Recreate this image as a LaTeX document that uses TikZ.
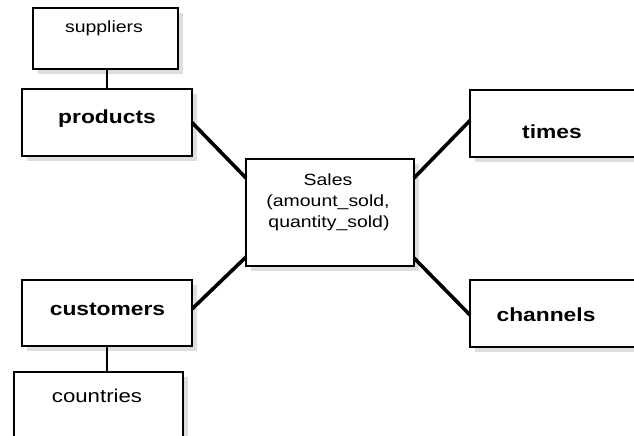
\documentclass[tikz,border=0pt]{standalone}
\usepackage{fontspec}
\setmainfont{Liberation Sans}[FakeStretch=1.2]
\usetikzlibrary{shadows}
\begin{document}
\begin{tikzpicture}[x=1pt,y=-1pt,
  box/.style={draw=black, fill=white, inner sep=0pt, outer sep=0pt,
    drop shadow={shadow xshift=5pt, shadow yshift=-5pt, fill=black!13, opacity=1}},
  lbl/.style={anchor=base, inner sep=0pt, font=\fontsize{16.2}{19}\selectfont},
  blbl/.style={anchor=base, inner sep=0pt, font=\fontsize{19}{22}\selectfont\bfseries},
  link/.style={line width=3.6pt, line cap=butt},
  tie/.style={line width=2.6pt}]
\useasboundingbox (0,0) rectangle (634,436);
\clip (0,0) rectangle (634,436);
\fill[white] (0,0) rectangle (634,436);

% boxes
\node[box, line width=1.2pt, minimum width=145pt, minimum height=61pt] (sup) at (105.5,38.5) {};
\node[box, line width=2.5pt, minimum width=170pt, minimum height=67pt] (prod) at (107,122.5) {};
\node[box, line width=1.3pt, minimum width=168pt, minimum height=107pt] (sales) at (330,212.5) {};
\node[box, line width=2.5pt, minimum width=230pt, minimum height=67pt] (times) at (585,123.5) {};
\node[box, line width=1.8pt, minimum width=230pt, minimum height=67pt] (chan) at (585,313.5) {};
\node[box, line width=1.8pt, minimum width=170pt, minimum height=66pt] (cust) at (107,313) {};
\node[box, line width=1.5pt, minimum width=169pt, minimum height=88pt] (ctry) at (98.5,416) {};

% texts
\node[lbl] (tsup) at (104,33) {suppliers};
\node[blbl] (tprod) at (107,123) {products};
\node[blbl] (tcust) at (107.5,315) {customers};
\node[lbl, font=\fontsize{18.5}{22}\selectfont] (tctry) at (97,402) {countries};
\node[blbl] (ttimes) at (552,138) {times};
\node[blbl] (tchan) at (546,321) {channels};
\node[lbl] (ts1) at (328,185) {Sales};
\node[lbl] (ts2) at (328,206) {(amount\_sold,};
\node[lbl] (ts3) at (329,227) {quantity\_sold)};

% connectors
\draw[tie] (prod.north |- sup.south) -- (prod.north);
\draw[tie] (cust.south) -- (cust.south |- ctry.north);
\draw[link] (prod.east) -- ([yshift=-19pt]sales.north west);
\draw[link] ([yshift=4pt]cust.east) -- ([yshift=9pt]sales.south west);
\draw[link] ([yshift=-19pt]sales.north east) -- ([yshift=3pt]times.west);
\draw[link] ([yshift=8pt]sales.south east) -- ([yshift=-1.5pt]chan.west);
\end{tikzpicture}
\end{document}
